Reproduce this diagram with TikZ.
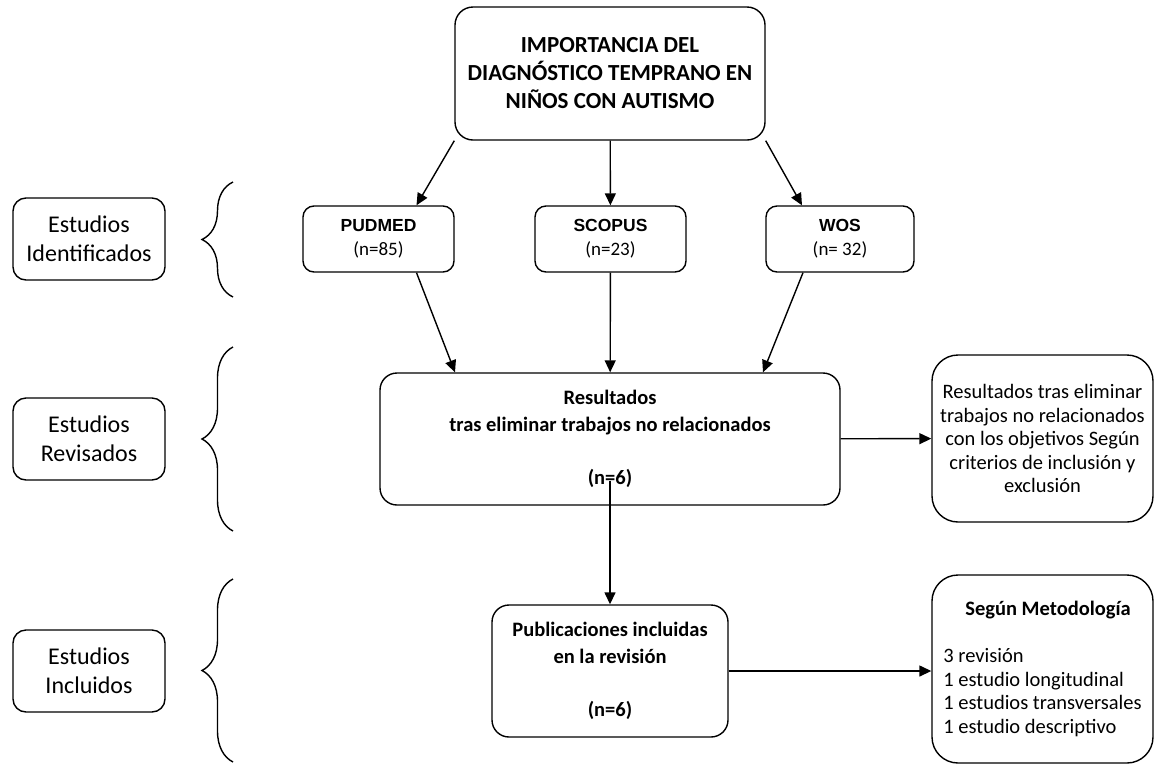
\documentclass[tikz,border=0pt]{standalone}
\usepackage{fontspec}
\setmainfont{Carlito}
\newfontfamily\arialfont{Liberation Sans}
\usetikzlibrary{positioning,arrows.meta,decorations.pathreplacing}
\newcommand{\dbtext}[2]{{\arialfont\bfseries\fontsize{17.5}{24}\selectfont #1}\\#2}

\begin{document}
\begin{tikzpicture}[
  x=1pt,y=-1pt,
  >={Triangle[length=12pt,width=11pt]},
  every node/.style={align=center,inner sep=3pt,line width=1.4pt,text=black},
  topic/.style={draw,rounded corners=18pt,minimum width=310pt,minimum height=133pt,font=\fontsize{23}{28}\selectfont\bfseries},
  stage/.style={draw,rounded corners=13pt,minimum width=152pt,minimum height=82pt,font=\fontsize{24}{29}\selectfont},
  db/.style={draw,rounded corners=11pt,minimum width=151pt,minimum height=66pt,font=\fontsize{19}{24}\selectfont},
  result/.style={draw,rounded corners=17pt,minimum height=132pt,font=\fontsize{20.5}{26.5}\selectfont\bfseries},
  note/.style={draw,rounded corners=26pt,minimum width=221pt,font=\fontsize{20.5}{23.5}\selectfont},
  edge/.style={->,line width=1.4pt},
  curly/.style={decorate,decoration={brace,amplitude=31pt},line width=1.4pt}
]
\useasboundingbox (0,0) rectangle (1154,764);

% stages on the left
\node[stage] (ident) at (89,239) {Estudios\\Identificados};
\node[stage] (revis) at (89,439) {Estudios\\Revisados};
\node[stage] (incl) at (89,671) {Estudios\\Incluidos};
\draw[curly] (233,297) -- (233,182);
\draw[curly] (233,531) -- (233,347);
\draw[curly] (233,762) -- (233,579);

% main column
\node[topic] (topic) at (610,73.5) {IMPORTANCIA DEL\\DIAGNÓSTICO TEMPRANO EN\\NIÑOS CON AUTISMO};
\node[db] (pudmed) at (378.5,239) {\dbtext{PUDMED}{(n=85)}};
\node[db] (scopus) at (610.5,239) {\dbtext{SCOPUS}{(n=23)}};
\node[db,minimum width=148pt] (wos) at (840,239) {\dbtext{WOS}{(n= 32)}};
\node[result,minimum width=460pt] (res) at (610,439) {Resultados\\tras eliminar trabajos no relacionados\\[26.5pt](n=6)};
\node[result,minimum width=236pt] (pub) at (610,671) {Publicaciones incluidas\\en la revisión\\[26.5pt](n=6)};

% notes on the right
\node[note,minimum height=167pt] (crit) at (1042.5,438.5) {Resultados tras eliminar\\trabajos no relacionados\\con los objetivos Según\\criterios de inclusión y\\exclusión};
\node[note,minimum height=188pt,align=left] (metod) at (1042.5,669) {\hspace*{22pt}\textbf{Según Metodología}\\[23.5pt]3 revisión\\1 estudio longitudinal\\1 estudios transversales\\1 estudio descriptivo};

\draw[edge] (topic.south west) -- ([xshift=38pt]pudmed.north);
\draw[edge] (topic) -- (scopus);
\draw[edge] (topic.south east) -- ([xshift=-38pt]wos.north);
\draw[edge] ([xshift=38pt]pudmed.south) -- ([xshift=-155pt]res.north);
\draw[edge] (scopus) -- (res);
\draw[edge] ([xshift=-37pt]wos.south) -- ([xshift=153pt]res.north);
\draw[edge] (res) -- (crit);
\draw[edge] ([yshift=25pt]res.south) -- (pub);
\draw[edge] (pub.east) -- (pub.east -| metod.west);
\end{tikzpicture}
\end{document}
